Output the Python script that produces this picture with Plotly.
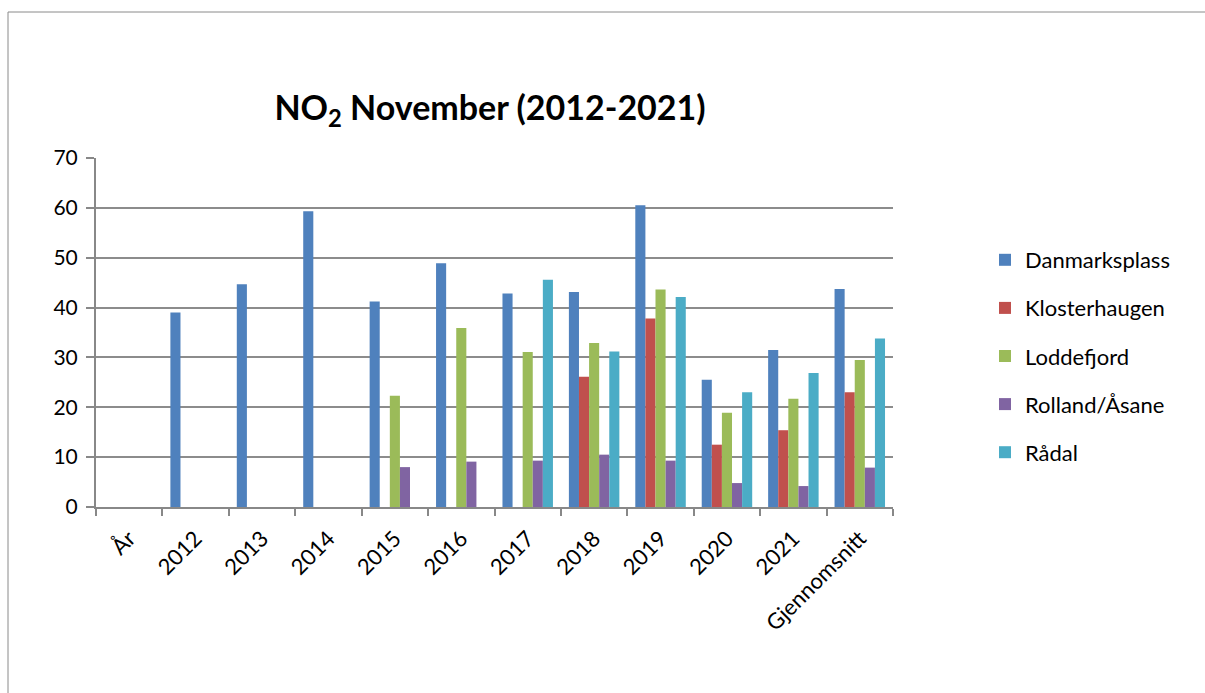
import plotly.graph_objects as go

categories = ["År", "2012", "2013", "2014", "2015", "2016", "2017", "2018", "2019", "2020", "2021", "Gjennomsnitt"]
danmarksplass = [None, 39.0, 44.7, 59.3, 41.2, 48.9, 42.8, 43.1, 60.5, 25.5, 31.5, 43.7]
klosterhaugen = [None, None, None, None, None, None, None, 26.1, 37.8, 12.5, 15.4, 23.0]
loddefjord = [None, None, None, None, 22.3, 35.9, 31.1, 32.9, 43.6, 18.9, 21.7, 29.5]
rolland = [None, None, None, None, 8.0, 9.1, 9.3, 10.5, 9.3, 4.8, 4.2, 7.9]
raadal = [None, None, None, None, None, None, 45.6, 31.2, 42.1, 23.0, 26.9, 33.8]

series = [
    ("Danmarksplass", danmarksplass, "#4F81BD"),
    ("Klosterhaugen", klosterhaugen, "#C0504D"),
    ("Loddefjord", loddefjord, "#9BBB59"),
    ("Rolland/Åsane", rolland, "#8064A2"),
    ("Rådal", raadal, "#4BACC6"),
]

FONT = "Lato"
L, R, T, B = 96, 312, 158, 186
PW = 1205 - L - R
PH = 693 - T - B

fig = go.Figure()
for name, vals, col in series:
    fig.add_trace(go.Bar(
        x=categories, y=vals, name=name, legendgroup=name,
        marker=dict(color=col, line=dict(width=0)),
    ))

fig.update_layout(
    width=1205, height=693,
    paper_bgcolor="white", plot_bgcolor="white",
    margin=dict(l=L, r=R, t=T, b=B),
    barmode="group", bargap=0.24, bargroupgap=0,
    font=dict(family=FONT, size=21, color="black"),
    title=dict(text="<b>NO<sub>2</sub> November (2012-2021)</b>", x=(490 / 1205), xanchor="center",
               y=1 - 108 / 693, yanchor="middle", font=dict(size=34, family=FONT, color="black")),
    showlegend=True,
    legend=dict(x=(985 - L) / PW, xanchor="left", y=(507 - 356) / PH, yanchor="middle",
                font=dict(size=22, family=FONT), tracegroupgap=16.5,
                traceorder="grouped", bgcolor="rgba(0,0,0,0)"),
    xaxis=dict(showline=True, linecolor="#888888", linewidth=2, ticks="outside",
               tickson="boundaries", ticklen=7, tickcolor="#888888", tickwidth=2,
               tickangle=-45, tickfont=dict(size=22, family=FONT), showgrid=False,
               ticklabelstandoff=8),
    yaxis=dict(range=[0, 70], dtick=10, showline=True, linecolor="#888888", linewidth=2,
               ticks="outside", ticklen=8, tickcolor="#888888", tickwidth=2,
               gridcolor="#8C8C8C", gridwidth=2, tickfont=dict(size=21, family=FONT),
               zeroline=False, ticklabelstandoff=4),
    shapes=[
        dict(type="line", xref="paper", yref="paper", x0=(8 - L) / PW, x1=(1210 - L) / PW,
             y0=(507 - 12) / PH, y1=(507 - 12) / PH, line=dict(color="#8A8A8A", width=1)),
        dict(type="line", xref="paper", yref="paper", x0=(8 - L) / PW, x1=(8 - L) / PW,
             y0=(507 - 12) / PH, y1=(507 - 700) / PH, line=dict(color="#8A8A8A", width=1)),
    ],
)

fig.write_html("out.html", config={"displayModeBar": False},
               post_script="document.body.style.margin='0';document.body.style.overflow='hidden';")
